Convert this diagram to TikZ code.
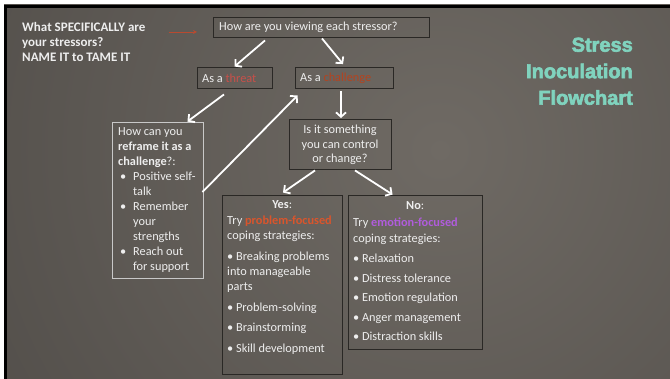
\documentclass[tikz,border=0pt]{standalone}
\usepackage{fontspec}
\setmainfont{Carlito}
\newfontfamily\titlefont[FakeBold=3]{Liberation Sans}
\usetikzlibrary{arrows.meta,calc}

\definecolor{bginner}{HTML}{6F6A64}
\definecolor{bgouter}{HTML}{3D3A37}
\definecolor{boxline}{HTML}{2A2825}
\definecolor{reframeline}{HTML}{C8C8C8}
\definecolor{txtcol}{HTML}{EEEEEE}
\definecolor{titlecol}{HTML}{80D3BE}
\definecolor{threatred}{HTML}{C8504A}
\definecolor{chalred}{HTML}{B4431F}
\definecolor{probred}{HTML}{DA552C}
\definecolor{emopurple}{HTML}{B05CDC}
\definecolor{leadred}{HTML}{B84A30}

\begin{document}
\begin{tikzpicture}[x=1pt, y=-1pt,
  box/.style={draw=boxline, line width=0.9pt, rectangle, inner sep=0pt},
  reframebox/.style={draw=reframeline, line width=0.9pt, rectangle, inner sep=0pt},
  txt/.style={text=txtcol, inner sep=0pt, font=\fontsize{12.3}{15}\selectfont},
  arr/.style={draw=white, line width=1.8pt, -{Straight Barb[length=4.5pt,width=10pt]}},
  leadarr/.style={draw=leadred, line width=0.8pt, -{Stealth[length=4pt,width=4pt]}}
]
% page extent
\useasboundingbox (0,0) rectangle (670,379);
\fill[white] (-10,-10) rectangle (690,400);

% slide background: radial light from the upper middle
\begin{scope}
  \clip (4,5) rectangle (690,400);
  \shade[inner color=bginner, outer color=bgouter] (440,150) circle (920);
\end{scope}
\draw[black, line width=3pt] (5,400) -- (5,6.5) -- (690,6.5);

% boxes
\node[box, minimum width=216pt, minimum height=20pt] (how) at (321,27) {};
\node[box, minimum width=75pt, minimum height=21pt] (threat) at (234.5,77.5) {};
\node[box, minimum width=98pt, minimum height=21pt] (chal) at (344,78) {};
\node[box, minimum width=102pt, minimum height=50pt] (isit) at (340,144) {};
\node[reframebox, minimum width=91pt, minimum height=156pt] (reframe) at (157.5,200) {};
\node[box, minimum width=120pt, minimum height=179pt] (yes) at (282,284.5) {};
\node[box, minimum width=134pt, minimum height=154pt] (no) at (415,272) {};

% texts
\node[txt, anchor=north east, align=right, text=titlecol,
      font=\titlefont\bfseries\fontsize{20}{26.5}\selectfont] (title) at (633,37.5)
  {Stress\\Inoculation\\Flowchart};

\node[txt, anchor=north west, align=left, font=\fontsize{13}{15}\selectfont\bfseries] (question) at (22,22.3)
  {What SPECIFICALLY are\\your stressors?\\NAME IT to TAME IT};

\node[txt, anchor=west] (howtxt) at (219,27.5) {How are you viewing each stressor?};
\node[txt, anchor=west] (threattxt) at (202,78) {As a \textcolor{threatred}{threat}};
\node[txt, anchor=west] (chaltxt) at (300,78.5) {As a \textcolor{chalred}{challenge}};

\node[txt, align=center, font=\fontsize{12.3}{14.5}\selectfont] (isittxt) at (340,145)
  {Is it something\\you can control\\or change?};

\node[txt, anchor=north west, align=left] (reframetxt) at (118,127.7)
  {How can you\\
   \textbf{reframe it as a}\\
   \textbf{challenge}?:\\
   \makebox[15pt][l]{\hspace{2pt}•}Positive self-\\
   \hspace*{15pt}talk\\
   \makebox[15pt][l]{\hspace{2pt}•}Remember\\
   \hspace*{15pt}your\\
   \hspace*{15pt}strengths\\
   \makebox[15pt][l]{\hspace{2pt}•}Reach out\\
   \hspace*{15pt}for support};

\node[txt, anchor=north west, align=left] (yestxt) at (227,200.7)
  {\makebox[110pt]{\textbf{Yes}:}\\[1pt]
   Try \textcolor{probred}{\textbf{problem-focused}}\\
   coping strategies:\\[6pt]
   • Breaking problems\\
   into manageable\\
   parts\\[6pt]
   • Problem-solving\\[5pt]
   • Brainstorming\\[6pt]
   • Skill development};

\node[txt, anchor=north west, align=left] (notxt) at (353,201.7)
  {\makebox[124pt]{\textbf{No}:}\\[2pt]
   Try \textcolor{emopurple}{\textbf{emotion-focused}}\\[1pt]
   coping strategies:\\[5pt]
   • Relaxation\\[5pt]
   • Distress tolerance\\[4pt]
   • Emotion regulation\\[5pt]
   • Anger management\\[4pt]
   • Distraction skills};

% leading arrow from the question towards the first box
\coordinate (leadA) at (169,32);
\coordinate (leadB) at (197,32);
\draw[leadarr] (leadA) -- (leadB);

% flow arrows
\draw[arr] ($(how.south)+(-56,3)$) -- (threat.north);
\draw[arr] ($(how.south)+(1,1)$) -- ($(chal.north)+(-1,-3)$);
\draw[arr] ($(threat.south)+(-10.5,6)$) -- ($(reframe.north east)+(-16,0)$);
\draw[arr] ($(reframe.east)+(-1,-8)$) -- ($(chal.south west)+(3,6.5)$);
\draw[arr] ($(chal.south)+(-3,2.5)$) -- ($(isit.north)+(1,-0.5)$);
\draw[arr] ($(isit.south)+(-25,1)$) -- ($(yes.north)+(1,-2)$);
\draw[arr] ($(isit.south)+(15,1)$) -- ($(no.north west)+(45,0)$);
\end{tikzpicture}
\end{document}
